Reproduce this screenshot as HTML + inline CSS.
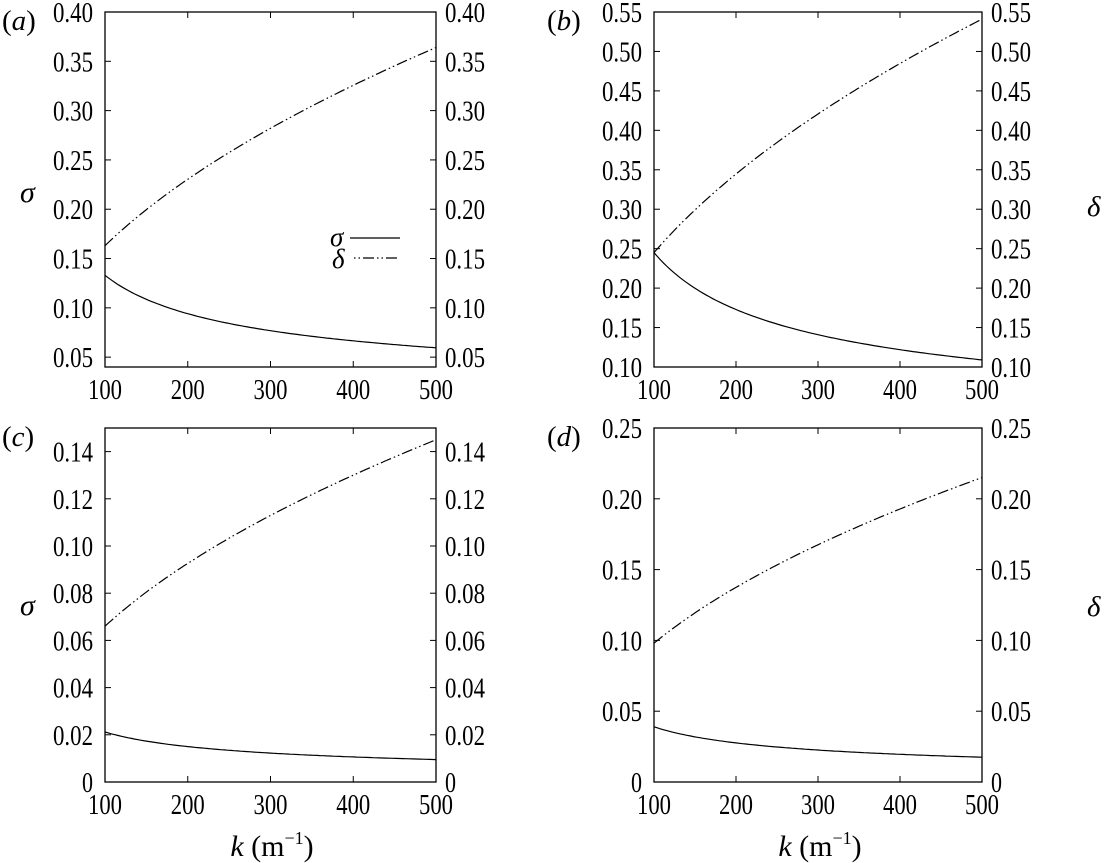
<!DOCTYPE html>
<html><head><meta charset="utf-8"><style>
html,body{margin:0;padding:0;background:#fff;}
svg{display:block;font-family:"Liberation Serif","DejaVu Serif","Times New Roman",serif;}
</style></head><body>
<svg id="s" width="1106" height="863" viewBox="0 0 1106 863" xmlns="http://www.w3.org/2000/svg" font-family="Liberation Serif, DejaVu Serif, serif"></svg>
<script>
const s=document.getElementById('s');let h='';
const F='font-family="Liberation Serif, DejaVu Serif, serif"';
const P=[
 {x0:105,x1:436,y0:12,y1:367,lo:0.04,hi:0.40,ticks:[0.05,0.10,0.15,0.20,0.25,0.30,0.35,0.40],sig:[0.133,0.0595],del:[0.163,0.364],lab:'a',lx:0},
 {x0:654,x1:982,y0:12,y1:367,lo:0.10,hi:0.55,ticks:[0.10,0.15,0.20,0.25,0.30,0.35,0.40,0.45,0.50,0.55],sig:[0.245,0.109],del:[0.245,0.541],lab:'b',lx:545},
 {x0:105,x1:436,y0:428,y1:782,lo:0,hi:0.15,ticks:[0,0.02,0.04,0.06,0.08,0.10,0.12,0.14],sig:[0.0212,0.0095],del:[0.066,0.145],lab:'c',lx:0},
 {x0:654,x1:982,y0:428,y1:782,lo:0,hi:0.25,ticks:[0,0.05,0.10,0.15,0.20,0.25],sig:[0.039,0.0175],del:[0.098,0.215],lab:'d',lx:545}];
const TL=(x,y,l,anchor)=>{const w=l==='0'?11:40;const xs=anchor==='end'?x-w:x;
 return `<text ${F} x="${xs}" y="${y}" font-size="29" textLength="${w}" lengthAdjust="spacingAndGlyphs">${l}</text>`;};
for(const p of P){
 const X=k=>p.x0+(k-100)/400*(p.x1-p.x0);
 const Y=v=>p.y1-(v-p.lo)/(p.hi-p.lo)*(p.y1-p.y0);
 h+=`<rect x="${p.x0}" y="${p.y0}" width="${p.x1-p.x0}" height="${p.y1-p.y0}" fill="none" stroke="#000" stroke-width="1.3"/>`;
 for(const t of p.ticks){const y=Y(t);const l=t===0?'0':t.toFixed(2);
  h+=`<line x1="${p.x0}" y1="${y}" x2="${p.x0+6}" y2="${y}" stroke="#000"/><line x1="${p.x1}" y1="${y}" x2="${p.x1-6}" y2="${y}" stroke="#000"/>`;
  h+=TL(p.x0-12,y+10,l,'end')+TL(p.x1+9,y+10,l,'start');}
 for(let k=100;k<=500;k+=100){const x=X(k);
  h+=`<line x1="${x}" y1="${p.y1}" x2="${x}" y2="${p.y1-6}" stroke="#000"/><line x1="${x}" y1="${p.y0}" x2="${x}" y2="${p.y0+6}" stroke="#000"/>`;
  h+=`<text ${F} x="${x-17}" y="${p.y1+32}" font-size="29" textLength="34" lengthAdjust="spacingAndGlyphs">${k}</text>`;}
 let a='',b='';
 for(let k=100;k<=500;k+=4){const r=Math.log(k/100)/Math.log(5);
  const sv=p.sig[0]*Math.pow(p.sig[1]/p.sig[0],r), dv=p.del[0]*Math.pow(p.del[1]/p.del[0],r);
  a+=(k==100?'M':'L')+X(k).toFixed(1)+','+Y(sv).toFixed(1);
  b+=(k==100?'M':'L')+X(k).toFixed(1)+','+Y(dv).toFixed(1);}
 h+=`<path d="${a}" fill="none" stroke="#000" stroke-width="1.2"/>`;
 h+=`<path d="${b}" fill="none" stroke="#000" stroke-width="1.2" stroke-dasharray="11 3 1.5 3 1.5 3"/>`;
 h+=`<text ${F} x="${p.lx+2}" y="${p.y0+18}" font-size="29">(<tspan font-style="italic">${p.lab}</tspan>)</text>`;
}
h+=`<text ${F} x="20" y="202" font-size="30" font-style="italic">σ</text><text ${F} x="20" y="615" font-size="30" font-style="italic">σ</text>`;
h+=`<text ${F} x="1087" y="216" font-size="29" font-style="italic">δ</text><text ${F} x="1087" y="616" font-size="29" font-style="italic">δ</text>`;
h+=`<text ${F} x="330" y="246" font-size="27" font-style="italic">σ</text><line x1="350" y1="238" x2="400" y2="238" stroke="#000" stroke-width="1.2"/>`;
h+=`<text ${F} x="332" y="268" font-size="27" font-style="italic">δ</text><line x1="354" y1="258" x2="400" y2="258" stroke="#000" stroke-width="1.2" stroke-dasharray="1.5 3 1.5 3 11 3" />`;
h+=`<text ${F} x="272" y="856" font-size="30" text-anchor="middle"><tspan font-style="italic">k</tspan> (m<tspan font-size="18" dy="-12">−1</tspan><tspan dy="12">)</tspan></text>`;
h+=`<text ${F} x="820" y="856" font-size="30" text-anchor="middle"><tspan font-style="italic">k</tspan> (m<tspan font-size="18" dy="-12">−1</tspan><tspan dy="12">)</tspan></text>`;
s.innerHTML=h;
</script>
</body></html>
